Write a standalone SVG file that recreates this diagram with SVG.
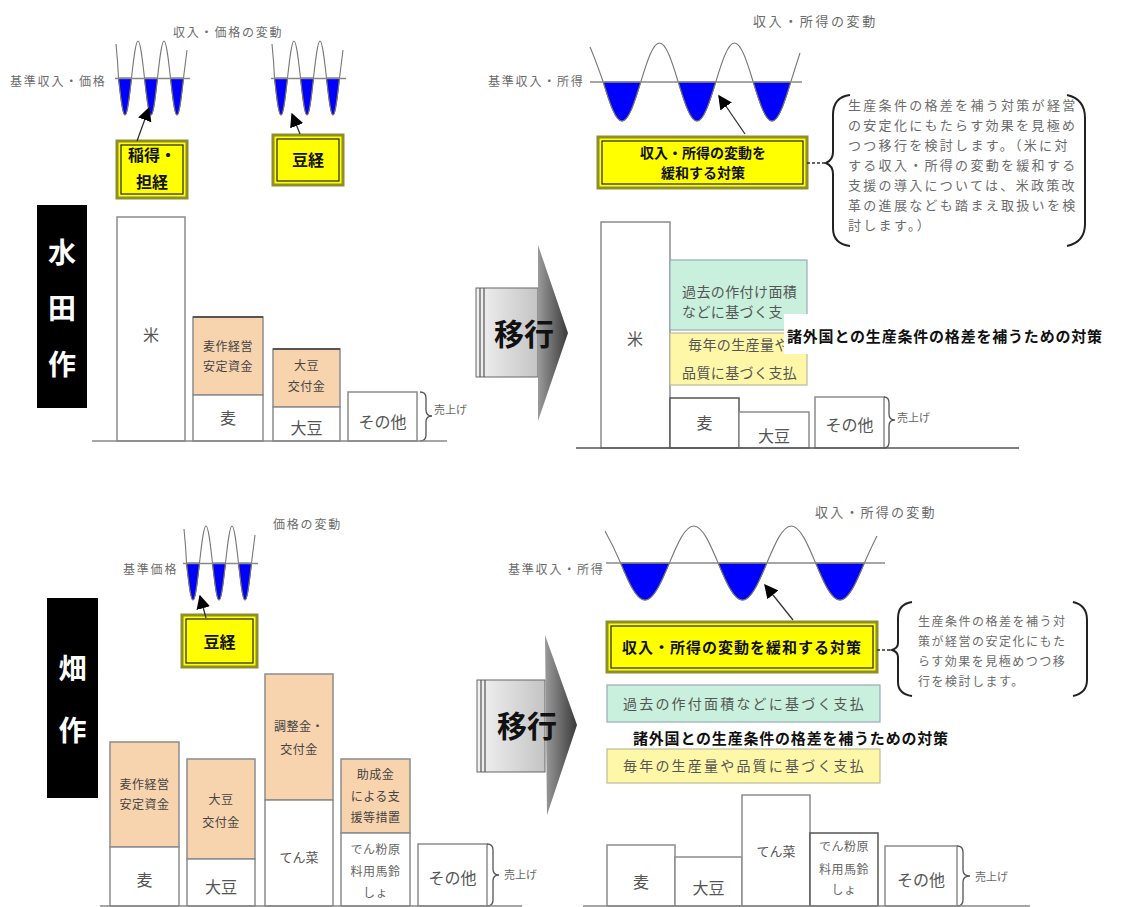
<svg xmlns="http://www.w3.org/2000/svg" width="1134" height="907" viewBox="0 0 1134 907">
<defs>
<style>
text{font-family:"Noto Sans CJK JP","Noto Sans",sans-serif;}
.lbl{font-size:12px;fill:#6b6b6b;letter-spacing:1.8px}
.par{font-size:13px;fill:#6b6b6b;letter-spacing:2.3px}
.par2{font-size:12px;fill:#6b6b6b;letter-spacing:1.5px}
.bar{fill:#fff;stroke:#8c8c8c;stroke-width:1.5}
.sub{fill:#f7d3ae;stroke:#8c8c8c;stroke-width:1.5}
.bl{font-size:16px;fill:#555;text-anchor:middle}
.sl{font-size:12px;fill:#444;text-anchor:middle;letter-spacing:0.5px}
.wave{fill:none;stroke:#777;stroke-width:1.1}
.lobe{fill:#0000ff;stroke:#333;stroke-width:0.8}
.base{stroke:#888;stroke-width:1.5;fill:none}
.ybox{fill:#ffff00;stroke:#8f8f2a;stroke-width:3}
.ybin{fill:none;stroke:#222;stroke-width:1.2}
.bt{font-weight:bold;fill:#111}
.brace{fill:none;stroke:#555;stroke-width:1.3}
.brk{fill:none;stroke:#222;stroke-width:2}
.lab{font-size:28px;font-weight:bold;fill:#fff;text-anchor:middle}
.arr{stroke:#333;stroke-width:1.3;fill:none}
.green{fill:#c8f0dc;stroke:#9ab;stroke-width:1.2}
.pale{fill:#fff7a8;stroke:#bb9;stroke-width:1.2}
.ptx{font-size:14px;fill:#555;letter-spacing:0.4px}
.sa{font-size:11px;fill:#666}
.shift{font-size:30px;font-weight:bold;fill:#111;text-anchor:middle}
</style>
<marker id="ah" viewBox="0 0 10 10" refX="9" refY="5" markerWidth="14" markerHeight="14" markerUnits="userSpaceOnUse" orient="auto"><path d="M0,0 L10,5 L0,10 z" fill="#000"/></marker>
<linearGradient id="gbody" x1="0" y1="0" x2="1" y2="0"><stop offset="0" stop-color="#f2f2f2"/><stop offset="1" stop-color="#c4c4c4"/></linearGradient>
<linearGradient id="gtri" x1="0" y1="0" x2="1" y2="0"><stop offset="0" stop-color="#9a9a9a"/><stop offset="1" stop-color="#3a3a3a"/></linearGradient>
<g id="wsmall">
<path class="lobe" d="M118.5,78 C120.62,96.96 122.66,115 125,115 C127.34,115 129.38,96.96 131.5,78 Z"/>
<path class="lobe" d="M144.5,78 C146.62,96.96 148.66,115 151,115 C153.34,115 155.38,96.96 157.5,78 Z"/>
<path class="lobe" d="M170.5,78 C172.62,96.96 174.66,115 177,115 C179.34,115 181.38,96.96 183.5,78 Z"/>
<path class="wave" d="M116,44 C117,54 118,66 118.5,78 C120.62,96.96 122.66,115 125,115 C127.34,115 129.38,96.96 131.5,78 C133.62,59.04 135.66,41 138,41 C140.34,41 142.38,59.04 144.5,78 C146.62,96.96 148.66,115 151,115 C153.34,115 155.38,96.96 157.5,78 C159.62,59.04 161.66,41 164,41 C166.34,41 168.38,59.04 170.5,78 C172.62,96.96 174.66,115 177,115 C179.34,115 181.38,96.96 183.5,78 C185,66 186,58 187,50"/>
<path class="base" d="M115,78.5 H190"/>
</g>
</defs>
<rect width="1134" height="907" fill="#fff"/>

<!-- ===== Top-left: 水田作 current ===== -->
<g id="label-suiden">
<rect x="37" y="205" width="50" height="203" fill="#000"/>
<text class="lab" x="62" y="263">水</text>
<text class="lab" x="62" y="319">田</text>
<text class="lab" x="62" y="375">作</text>
</g>
<g id="tl-waves">
<text class="lbl" x="173" y="37">収入・価格の変動</text>
<text class="lbl" x="10" y="86">基準収入・価格</text>
<use href="#wsmall"/>
<use href="#wsmall" transform="translate(156,0)"/>
</g>
<g id="tl-box1">
<rect class="ybox" x="117" y="141" width="70" height="57"/>
<rect class="ybin" x="121" y="145" width="62" height="49"/>
<text class="bt" x="128" y="161" font-size="16">稲得・</text>
<text class="bt" x="152" y="188" font-size="16" text-anchor="middle">担経</text>
</g>
<g id="tl-box2">
<rect class="ybox" x="273" y="135" width="70" height="50"/>
<rect class="ybin" x="277" y="139" width="62" height="42"/>
<text class="bt" x="308" y="166" font-size="16" text-anchor="middle">豆経</text>
</g>
<g id="tl-bars">
<rect class="bar" x="117" y="217" width="68" height="224"/>
<text class="bl" x="151" y="341">米</text>
<rect class="sub" x="193" y="317" width="70" height="78"/>
<path d="M193,317 H263" stroke="#555" stroke-width="2"/>
<text class="sl" x="228" y="351">麦作経営</text>
<text class="sl" x="228" y="371">安定資金</text>
<rect class="bar" x="193" y="395" width="70" height="46"/>
<text class="bl" x="228" y="424">麦</text>
<rect class="sub" x="273" y="349" width="67" height="58"/>
<path d="M273,349 H340" stroke="#555" stroke-width="2"/>
<text class="sl" x="306.5" y="370">大豆</text>
<text class="sl" x="306.5" y="391">交付金</text>
<rect class="bar" x="273" y="407" width="67" height="34"/>
<text class="bl" x="306.5" y="434">大豆</text>
<rect class="bar" x="348" y="392" width="69" height="49"/>
<text class="bl" x="382.5" y="428">その他</text>
<path class="brace" d="M420,392 Q426,392 426,398 L426,410 Q426,416 432,416 Q426,416 426,422 L426,435 Q426,441 420,441"/>
<text class="sa" x="434" y="414">売上げ</text>
<path class="base" d="M92,441 H447"/>
</g>

<!-- ===== Top-right: 水田作 new ===== -->
<g id="tr-waves">
<text class="lbl" x="753" y="26" style="font-size:13px;letter-spacing:2.6px">収入・所得の変動</text>
<text class="lbl" x="488" y="86">基準収入・所得</text>
<path class="lobe" d="M603.25,82 C609.36,101.98 615.25,121 622,121 C628.75,121 634.64,101.98 640.75,82 Z"/>
<path class="lobe" d="M678.25,82 C684.36,101.98 690.25,121 697,121 C703.75,121 709.64,101.98 715.75,82 Z"/>
<path class="lobe" d="M753.25,82 C759.36,101.98 765.25,121 772,121 C778.75,121 784.64,101.98 790.75,82 Z"/>
<path class="wave" d="M590,47 C594,56 599,70 603.25,82 C609.36,101.98 615.25,121 622,121 C628.75,121 634.64,101.98 640.75,82 C646.86,62.02 652.75,43 659.5,43 C666.25,43 672.14,62.02 678.25,82 C684.36,101.98 690.25,121 697,121 C703.75,121 709.64,101.98 715.75,82 C721.86,62.02 727.75,43 734.5,43 C741.25,43 747.14,62.02 753.25,82 C759.36,101.98 765.25,121 772,121 C778.75,121 784.64,101.98 790.75,82 C794,72 797,62 800,53"/>
<path class="base" d="M590,82 H802"/>
</g>
<g id="tr-box">
<rect class="ybox" x="598" y="137" width="209" height="51"/>
<rect class="ybin" x="602" y="141" width="201" height="43"/>
<text class="bt" x="703" y="158" font-size="14" text-anchor="middle">収入・所得の変動を</text>
<text class="bt" x="703" y="178" font-size="14" text-anchor="middle">緩和する対策</text>
</g>
<g id="tr-note">
<path class="brk" d="M850,95 Q833,97 833,115 L833,152 Q833,160 826,163 Q833,166 833,174 L833,228 Q833,244 850,246"/>
<path class="brk" d="M1067,95 Q1085,99 1085,118 L1085,224 Q1085,242 1067,246"/>
<text class="par" x="848" y="110">生産条件の格差を補う対策が経営</text>
<text class="par" x="848" y="130">の安定化にもたらす効果を見極め</text>
<text class="par" x="848" y="150">つつ移行を検討します。（米に対</text>
<text class="par" x="848" y="170">する収入・所得の変動を緩和する</text>
<text class="par" x="848" y="190">支援の導入については、米政策改</text>
<text class="par" x="848" y="210">革の進展なども踏まえ取扱いを検</text>
<text class="par" x="848" y="230">討します。）</text>
</g>
<g id="tr-shift">
<rect x="476" y="288" width="62" height="89" fill="url(#gbody)" stroke="#666" stroke-width="1"/>
<path d="M480,288 V377 M484,288 V377" stroke="#555" stroke-width="1.2"/>
<polygon points="538,245 538,421 568,333" fill="url(#gtri)"/>
<text class="shift" x="524" y="345">移行</text>
</g>
<g id="tr-bars">
<rect class="bar" x="601" y="222" width="69" height="226"/>
<text class="bl" x="635" y="345">米</text>
<rect class="green" x="670" y="260" width="137" height="70"/>
<text class="ptx" x="682" y="297">過去の作付け面積</text>
<text class="ptx" x="682" y="317">などに基づく支</text>
<rect class="pale" x="670" y="333" width="137" height="52"/>
<text class="ptx" x="688" y="350">毎年の生産量や</text>
<text class="ptx" x="682" y="378">品質に基づく支払</text>
<rect x="784" y="314" width="322" height="40" fill="#fff"/>
<text class="bt" x="787" y="342" font-size="15" letter-spacing="0.8">諸外国との生産条件の格差を補うための対策</text>
<rect class="bar" x="670" y="398" width="69" height="50" style="stroke:#555"/>
<text class="bl" x="704.5" y="429">麦</text>
<rect class="bar" x="739" y="412" width="70" height="36"/>
<text class="bl" x="774" y="442">大豆</text>
<rect class="bar" x="815" y="397" width="69" height="51"/>
<text class="bl" x="849.5" y="431">その他</text>
<path class="brace" d="M884,397 Q889,397 889,403 L889,414 Q889,420 895,420 Q889,420 889,426 L889,442 Q889,448 884,448"/>
<text class="sa" x="897" y="422">売上げ</text>
<path class="base" d="M576,448 H1019" style="stroke:#555"/>
</g>

<!-- ===== Bottom-left: 畑作 current ===== -->
<g id="label-hata">
<rect x="47" y="598" width="51" height="200" fill="#000"/>
<text class="lab" x="72.5" y="679">畑</text>
<text class="lab" x="72.5" y="741">作</text>
</g>
<g id="bl-waves">
<text class="lbl" x="273" y="529">価格の変動</text>
<text class="lbl" x="123" y="574">基準価格</text>
<use href="#wsmall" transform="translate(68,485)"/>
</g>
<g id="bl-box">
<rect class="ybox" x="182" y="615" width="75" height="52"/>
<rect class="ybin" x="186" y="619" width="67" height="44"/>
<text class="bt" x="219.5" y="648" font-size="16" text-anchor="middle">豆経</text>
</g>
<g id="bl-bars">
<rect class="sub" x="110" y="742" width="69" height="105"/>
<text class="sl" x="144.5" y="789">麦作経営</text>
<text class="sl" x="144.5" y="809">安定資金</text>
<rect class="bar" x="110" y="847" width="69" height="59"/>
<text class="bl" x="144.5" y="886">麦</text>
<rect class="sub" x="187" y="759" width="68" height="100"/>
<text class="sl" x="221" y="804">大豆</text>
<text class="sl" x="221" y="827">交付金</text>
<rect class="bar" x="187" y="859" width="68" height="47"/>
<text class="bl" x="221" y="893">大豆</text>
<rect class="sub" x="265" y="674" width="68" height="126"/>
<text class="sl" x="299" y="731">調整金・</text>
<text class="sl" x="299" y="754">交付金</text>
<rect class="bar" x="265" y="800" width="68" height="106"/>
<text class="bl" x="299" y="862" style="font-size:13px">てん菜</text>
<rect class="sub" x="341" y="759" width="69" height="74"/>
<text class="sl" x="375.5" y="779">助成金</text>
<text class="sl" x="375.5" y="801">による支</text>
<text class="sl" x="375.5" y="822">援等措置</text>
<rect class="bar" x="341" y="833" width="69" height="73"/>
<text class="sl" x="375.5" y="854" style="fill:#666">でん粉原</text>
<text class="sl" x="375.5" y="876" style="fill:#666">料用馬鈴</text>
<text class="sl" x="375.5" y="897" style="fill:#666">しょ</text>
<rect class="bar" x="418" y="844" width="69" height="62"/>
<text class="bl" x="452.5" y="884">その他</text>
<path class="brace" d="M487,844 Q493,844 493,850 L493,869 Q493,875 499,875 Q493,875 493,881 L493,900 Q493,906 487,906"/>
<text class="sa" x="504" y="879">売上げ</text>
<path class="base" d="M100,906 H522"/>
</g>

<!-- ===== Bottom-right: 畑作 new ===== -->
<g id="br-waves">
<text class="lbl" x="815" y="517" style="font-size:13px;letter-spacing:2.2px">収入・所得の変動</text>
<text class="lbl" x="508" y="574">基準収入・所得</text>
<path class="lobe" d="M620.625,563 C628.575,581.96 636.225,600 645,600 C653.775,600 661.425,581.96 669.375,563 Z"/>
<path class="lobe" d="M718.125,563 C726.075,581.96 733.725,600 742.5,600 C751.275,600 758.925,581.960 766.875,563 Z"/>
<path class="lobe" d="M815.625,563 C823.575,581.96 831.225,600 840,600 C848.775,600 856.425,581.96 864.375,563 Z"/>
<path class="wave" d="M605,531 C610,540 615.5,551 620.625,563 C628.575,581.96 636.225,600 645,600 C653.775,600 661.425,581.96 669.375,563 C677.325,544.04 684.975,526 693.75,526 C702.525,526 710.175,544.04 718.125,563 C726.075,581.96 733.725,600 742.5,600 C751.275,600 758.925,581.96 766.875,563 C774.825,544.04 782.475,526 791.25,526 C800.025,526 807.675,544.04 815.625,563 C823.575,581.96 831.225,600 840,600 C848.775,600 856.425,581.96 864.375,563 C869,552 873,544 877,536"/>
<path class="base" d="M606,563 H885"/>
</g>
<g id="br-box">
<rect class="ybox" x="607" y="622" width="270" height="50"/>
<rect class="ybin" x="611" y="626" width="262" height="42"/>
<text class="bt" x="742" y="653" font-size="15" text-anchor="middle" letter-spacing="1">収入・所得の変動を緩和する対策</text>
</g>
<g id="br-note">
<path class="brk" d="M912,602 Q898,604 898,618 L898,643 Q898,648 892,650 Q898,652 898,657 L898,682 Q898,694 912,696"/>
<path class="brk" d="M1073,602 Q1087,605 1087,620 L1087,680 Q1087,693 1073,696"/>
<text class="par2" x="918" y="626">生産条件の格差を補う対</text>
<text class="par2" x="918" y="646">策が経営の安定化にもた</text>
<text class="par2" x="918" y="666">らす効果を見極めつつ移</text>
<text class="par2" x="918" y="686">行を検討します。</text>
</g>
<g id="br-shift">
<rect x="477" y="680" width="68" height="92" fill="url(#gbody)" stroke="#666" stroke-width="1"/>
<path d="M481,680 V772 M485,680 V772" stroke="#555" stroke-width="1.2"/>
<polygon points="545,635 547,815 577,725" fill="url(#gtri)"/>
<text class="shift" x="527" y="737">移行</text>
</g>
<g id="br-bars">
<rect class="green" x="607" y="685" width="273" height="37"/>
<text class="ptx" x="623" y="709" style="letter-spacing:2.2px">過去の作付面積などに基づく支払</text>
<text class="bt" x="633" y="744" font-size="15" letter-spacing="0.8">諸外国との生産条件の格差を補うための対策</text>
<rect class="pale" x="607" y="749" width="273" height="34"/>
<text class="ptx" x="623" y="771" style="letter-spacing:2.2px">毎年の生産量や品質に基づく支払</text>
<rect class="bar" x="607" y="845" width="68" height="61"/>
<text class="bl" x="641" y="888">麦</text>
<rect class="bar" x="675" y="857" width="67" height="49"/>
<text class="bl" x="708.5" y="894">大豆</text>
<rect class="bar" x="742" y="795" width="68" height="111"/>
<text class="bl" x="776" y="856" style="font-size:13px">てん菜</text>
<rect class="bar" x="810" y="833" width="68" height="73" style="stroke:#555"/>
<text class="sl" x="844" y="851" style="fill:#666">でん粉原</text>
<text class="sl" x="844" y="874" style="fill:#666">料用馬鈴</text>
<text class="sl" x="844" y="894" style="fill:#666">しょ</text>
<rect class="bar" x="885" y="846" width="72" height="60"/>
<text class="bl" x="921" y="886">その他</text>
<path class="brace" d="M957,846 Q963,846 963,852 L963,870 Q963,876 970,876 Q963,876 963,882 L963,900 Q963,906 957,906"/>
<text class="sa" x="975" y="881">売上げ</text>
<path class="base" d="M583,906 H1030"/>
</g>

<g id="connectors">
<path class="arr" d="M137,141 L149,108" marker-end="url(#ah)"/>
<path class="arr" d="M300,134 L292,114" marker-end="url(#ah)"/>
<path class="arr" d="M206,618 L200,596" marker-end="url(#ah)"/>
<path class="arr" d="M745,134 L719,96" marker-end="url(#ah)"/>
<path class="arr" d="M793,620 L765,585" marker-end="url(#ah)"/>
<path d="M807,163 H826" stroke="#333" stroke-width="1.3" stroke-dasharray="3 2"/>
<path d="M877,650 H892" stroke="#333" stroke-width="1.3" stroke-dasharray="3 2"/>
</g>
</svg>
